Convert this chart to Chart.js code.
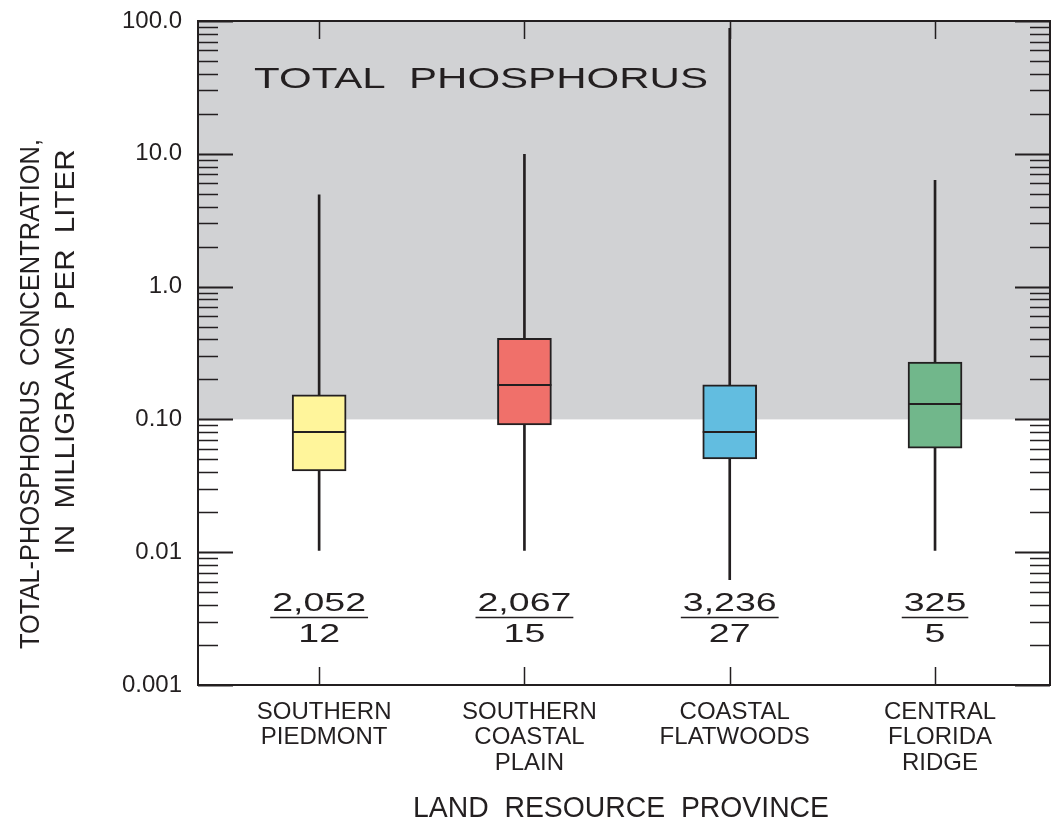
<!DOCTYPE html>
<html>
<head>
<meta charset="utf-8">
<title>Total phosphorus by land resource province</title>
<script src="https://cdn.jsdelivr.net/npm/chart.js@4.4.0/dist/chart.umd.min.js"></script>
<style>
  html, body { margin: 0; padding: 0; background: #fff; }
  canvas { display: block; }
</style>
</head>
<body>
<canvas id="phosphorusChart" width="1054" height="825"></canvas>
<script>
// Box plot data, mg/L
const provinces = [
    ['SOUTHERN', 'PIEDMONT'],
    ['SOUTHERN', 'COASTAL', 'PLAIN'],
    ['COASTAL', 'FLATWOODS'],
    ['CENTRAL', 'FLORIDA', 'RIDGE']
];
const whiskerLow  = [0.0103, 0.0103, 0.0062, 0.0103];
const quartile1   = [0.041, 0.091, 0.0505, 0.0606];
const medians     = [0.081, 0.181, 0.081, 0.131];
const quartile3   = [0.153, 0.408, 0.182, 0.27];
const whiskerHigh = [4.9, 9.9, 88, 6.3];

// number of samples over number of sites
const sampleCounts = ['2,052', '2,067', '3,236', '325'];
const siteCounts = ['12', '15', '27', '5'];

const yTickLabels = { 100: '100.0', 10: '10.0', 1: '1.0', 0.1: '0.10', 0.01: '0.01', 0.001: '0.001' };
const shadedRange = [0.1, 100];

const boxColors = ['#fff59b', '#f0706a', '#62bde0', '#71b78b'];
const INK = '#231f20';
const FONT = '"Liberation Sans", Arial, Helvetica, sans-serif';

// draw text squeezed/stretched to a given width
function fitText(ctx, text, x, y, width, align) {
    const natural = ctx.measureText(text).width;
    ctx.save();
    ctx.translate(x, y);
    ctx.scale(width / natural, 1);
    ctx.textAlign = align || 'center';
    ctx.fillText(text, 0, 0);
    ctx.restore();
}

function stretchText(ctx, text, x, y, sx) {
    ctx.save();
    ctx.translate(x, y);
    ctx.scale(sx, 1);
    ctx.textAlign = 'center';
    ctx.fillText(text, 0, 0);
    ctx.restore();
    return ctx.measureText(text).width * sx;
}

const xPositions = provinces.map((p, i) => i + 1);

const shadePlugin = {
    id: 'shade',
    beforeDatasetsDraw(chart) {
        const { ctx, chartArea, scales } = chart;
        const top = scales.y.getPixelForValue(shadedRange[1]);
        const bottom = scales.y.getPixelForValue(shadedRange[0]);
        ctx.save();
        ctx.fillStyle = '#d1d2d4';
        ctx.fillRect(chartArea.left, top, chartArea.right - chartArea.left, bottom - top);
        ctx.restore();
    }
};

const decorPlugin = {
    id: 'decor',
    afterDatasetsDraw(chart) {
        const { ctx, scales } = chart;
        // median lines across each box
        const boxes = chart.getDatasetMeta(0);
        ctx.save();
        ctx.strokeStyle = INK;
        ctx.lineWidth = 2;
        boxes.data.forEach((bar, i) => {
            const yy = Math.round(scales.y.getPixelForValue(medians[i]));
            ctx.beginPath();
            ctx.moveTo(bar.x - bar.width / 2, yy);
            ctx.lineTo(bar.x + bar.width / 2, yy);
            ctx.stroke();
        });
        ctx.restore();
    },
    afterDraw(chart) {
        const { ctx, chartArea, scales } = chart;
        const { left, right, top, bottom } = chartArea;
        ctx.save();
        ctx.strokeStyle = INK;
        ctx.fillStyle = INK;

        // inward ticks on left and right
        scales.y.ticks.forEach(t => {
            const major = yTickLabels[t.value] !== undefined;
            const len = major ? 35 : 20;
            const yy = Math.round(scales.y.getPixelForValue(t.value)) + 0.5;
            ctx.lineWidth = major ? 2 : 1.4;
            ctx.beginPath();
            ctx.moveTo(left, yy); ctx.lineTo(left + len, yy);
            ctx.moveTo(right, yy); ctx.lineTo(right - len, yy);
            ctx.stroke();
        });

        // category ticks top and bottom
        ctx.lineWidth = 1.5;
        xPositions.forEach(v => {
            const xx = Math.round(scales.x.getPixelForValue(v)) + 0.5;
            ctx.beginPath();
            ctx.moveTo(xx, top); ctx.lineTo(xx, top + 18);
            ctx.moveTo(xx, bottom); ctx.lineTo(xx, bottom - 18);
            ctx.stroke();
        });

        // frame
        ctx.lineWidth = 2;
        ctx.strokeRect(left, top, right - left, bottom - top);

        // panel title
        ctx.font = '30px ' + FONT;
        ctx.textBaseline = 'alphabetic';
        fitText(ctx, 'TOTAL  PHOSPHORUS', left + 56, top + 67, 454, 'left');

        // sample / site counts
        xPositions.forEach((v, i) => {
            const xx = scales.x.getPixelForValue(v);
            ctx.font = '25px ' + FONT;
            const w = stretchText(ctx, sampleCounts[i], xx, bottom - 74, 1.5);
            stretchText(ctx, siteCounts[i], xx, bottom - 43, 1.5);
            ctx.lineWidth = 1.5;
            ctx.beginPath();
            ctx.moveTo(xx - w / 2 - 2, bottom - 67.5);
            ctx.lineTo(xx + w / 2 + 2, bottom - 67.5);
            ctx.stroke();

            // province names
            ctx.font = '24px ' + FONT;
            ctx.textAlign = 'center';
            provinces[i].forEach((line, j) => {
                ctx.fillText(line, xx + 5, bottom + 33.5 + j * 25.7);
            });
        });

        // axis titles
        ctx.font = '30px ' + FONT;
        fitText(ctx, 'LAND  RESOURCE  PROVINCE', (left + right) / 2 - 3, bottom + 132, 416, 'center');

        ctx.font = '28px ' + FONT;
        ctx.textBaseline = 'middle';
        ctx.save();
        ctx.translate(31, 394);
        ctx.rotate(-Math.PI / 2);
        fitText(ctx, 'TOTAL-PHOSPHORUS  CONCENTRATION,', 0, 0, 510, 'center');
        ctx.restore();
        ctx.save();
        ctx.translate(66, 352);
        ctx.rotate(-Math.PI / 2);
        fitText(ctx, 'IN  MILLIGRAMS  PER  LITER', 0, 0, 405, 'center');
        ctx.restore();

        ctx.restore();
    }
};

document.addEventListener('DOMContentLoaded', function() {
    const ctx = document.getElementById('phosphorusChart').getContext('2d');

    const boxData = xPositions.map((x, i) => ({ x: x, y: [quartile1[i], quartile3[i]] }));
    const whiskerData = xPositions.map((x, i) => ({ x: x, y: [whiskerLow[i], whiskerHigh[i]] }));

    new Chart(ctx, {
        type: 'bar',
        data: {
            datasets: [
                {
                    label: 'Interquartile range',
                    data: boxData,
                    backgroundColor: boxColors,
                    borderColor: INK,
                    borderWidth: 2,
                    borderSkipped: false,
                    barThickness: 54,
                    grouped: false,
                    order: 0
                },
                {
                    label: 'Range',
                    data: whiskerData,
                    backgroundColor: INK,
                    borderWidth: 0,
                    barThickness: 2,
                    grouped: false,
                    order: 1
                }
            ]
        },
        options: {
            responsive: false,
            animation: false,
            devicePixelRatio: 1,
            layout: { padding: { top: 21, right: 4, left: 0, bottom: 0 } },
            plugins: {
                legend: { display: false },
                tooltip: { enabled: false }
            },
            scales: {
                x: {
                    type: 'linear',
                    offset: false,
                    min: 0.41,
                    max: 4.56,
                    grid: { display: false },
                    border: { display: false },
                    ticks: { display: false },
                    afterBuildTicks: scale => {
                        scale.ticks = xPositions.map(v => ({ value: v }));
                    },
                    afterFit: scale => {
                        scale.height = 140;
                        scale.paddingLeft = 0;
                        scale.paddingRight = 0;
                    }
                },
                y: {
                    type: 'logarithmic',
                    min: 0.001,
                    max: 100,
                    grid: { display: false, drawTicks: false },
                    border: { display: false },
                    afterBuildTicks: scale => {
                        const ticks = [];
                        [0.001, 0.01, 0.1, 1, 10].forEach(d => {
                            for (let m = 1; m < 10; m++) {
                                ticks.push({ value: +(d * m).toPrecision(3) });
                            }
                        });
                        ticks.push({ value: 100 });
                        scale.ticks = ticks;
                    },
                    afterFit: scale => {
                        scale.width = 198;
                        scale.paddingTop = 0;
                        scale.paddingBottom = 0;
                    },
                    ticks: {
                        autoSkip: false,
                        padding: 16,
                        color: INK,
                        font: { family: FONT, size: 24 },
                        callback: value => yTickLabels[value] || ''
                    }
                }
            }
        },
        plugins: [shadePlugin, decorPlugin]
    });
});
</script>
</body>
</html>
